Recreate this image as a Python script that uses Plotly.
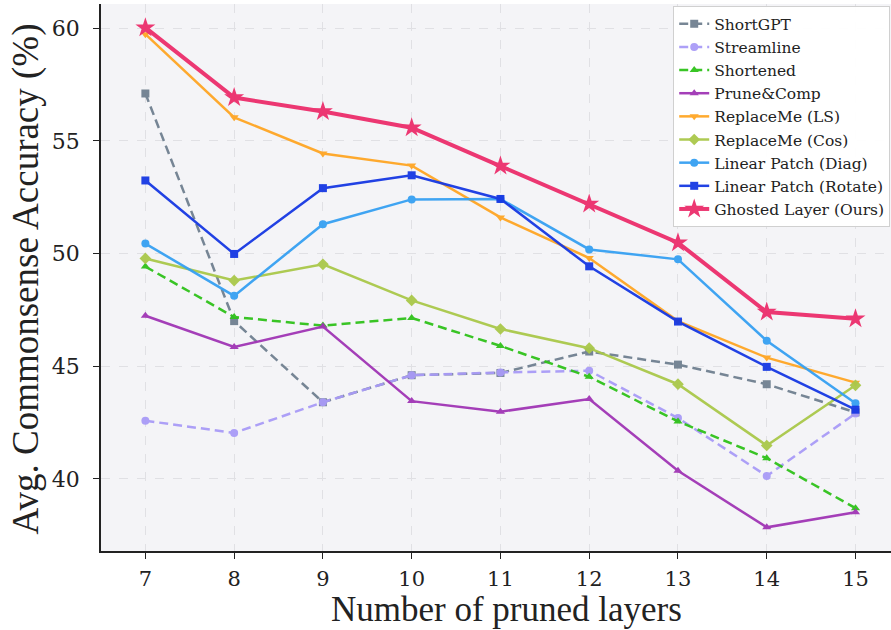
import plotly.graph_objects as go

layers = [7, 8, 9, 10, 11, 12, 13, 14, 15]

shortgpt = [57.1, 47.0, 43.4, 44.6, 44.7, 45.65, 45.07, 44.2, 42.95]
streamline = [42.58, 42.04, 43.4, 44.6, 44.72, 44.8, 42.7, 40.13, 42.9]
shortened = [49.42, 47.18, 46.8, 47.14, 45.9, 44.53, 42.55, 40.92, 38.7]
prune_comp = [47.24, 45.85, 46.76, 43.45, 42.98, 43.54, 40.36, 37.85, 38.52]
replaceme_ls = [59.73, 56.04, 54.44, 53.9, 51.6, 49.8, 47.0, 45.38, 44.27]
replaceme_cos = [49.78, 48.8, 49.52, 47.92, 46.65, 45.8, 44.2, 41.48, 44.15]
lp_diag = [50.44, 48.12, 51.3, 52.4, 52.42, 50.18, 49.74, 46.13, 43.36]
lp_rotate = [53.24, 49.98, 52.9, 53.47, 52.42, 49.43, 46.98, 44.97, 43.07]
ghosted = [60.02, 56.92, 56.3, 55.58, 53.88, 52.2, 50.48, 47.4, 47.1]

x_title = "Number of pruned layers"
y_title = "Avg. Commonsense Accuracy (%)"

series = [
    ("ShortGPT", shortgpt, "#708090", "dash", "square", 8, 2.5),
    ("Streamline", streamline, "#a99bf7", "dash", "circle", 8, 2.5),
    ("Shortened", shortened, "#2fc21a", "dash", "triangle-up", 8, 2.5),
    ("Prune&Comp", prune_comp, "#a035b5", "solid", "triangle-up", 8, 2.5),
    ("ReplaceMe (LS)", replaceme_ls, "#ffa624", "solid", "triangle-down", 8, 2.5),
    ("ReplaceMe (Cos)", replaceme_cos, "#aac84a", "solid", "diamond", 9, 2.5),
    ("Linear Patch (Diag)", lp_diag, "#36a0f2", "solid", "circle", 8, 2.5),
    ("Linear Patch (Rotate)", lp_rotate, "#1638e3", "solid", "square", 8, 2.5),
    ("Ghosted Layer (Ours)", ghosted, "#ec2d6b", "solid", "star", 15, 4),
]

fig = go.Figure()
for name, vals, color, dash, sym, msize, lw in series:
    fig.add_trace(go.Scatter(
        x=layers, y=vals, name=name, mode="lines+markers",
        line=dict(color=color, width=lw, dash="9px,5px" if dash == "dash" else "solid"),
        marker=dict(symbol=sym, size=msize, color=color, line=dict(width=0)),
        opacity=0.95,
    ))

fig.update_layout(
    width=891, height=630,
    margin=dict(l=101, r=0, t=4, b=79, autoexpand=False),
    paper_bgcolor="white",
    plot_bgcolor="#f4f4f7",
    font=dict(family="DejaVu Serif", color="#222"),
    showlegend=True,
    legend=dict(
        x=0.999, y=0.996, xanchor="right", yanchor="top",
        bgcolor="rgba(255,255,255,0.95)", bordercolor="#d0d0d0", borderwidth=1,
        font=dict(family="DejaVu Serif", size=15.5, color="#222"),
        tracegroupgap=0, itemwidth=30,
    ),
    annotations=[
        dict(text=x_title, xref="paper", yref="paper", x=0.5, y=-0.1,
             xanchor="center", yanchor="middle", xshift=10, yshift=-4, showarrow=False,
             font=dict(family="Liberation Serif", size=35, color="#222")),
        dict(text=y_title, xref="paper", yref="paper", x=0, y=0.5, xshift=-76, yshift=-2,
             xanchor="center", yanchor="middle", textangle=-90, showarrow=False,
             font=dict(family="Liberation Serif", size=37, color="#222")),
    ],
)
fig.update_xaxes(
    range=[6.5, 15.4], tickvals=layers, ticktext=[str(v) for v in layers],
    automargin=False,
    showline=True, linecolor="#222", linewidth=1.5, mirror=False,
    ticks="outside", ticklen=6, tickcolor="#222", tickwidth=1,
    ticklabelstandoff=2,
    showgrid=True, gridcolor="#e0e0e4", griddash="dash", gridwidth=1,
    zeroline=False,
    tickfont=dict(family="DejaVu Serif", size=21, color="#222"),
)
fig.update_yaxes(
    range=[36.8, 61.07], tickvals=[40, 45, 50, 55, 60],
    automargin=False,
    showline=True, linecolor="#222", linewidth=1.5, mirror=False,
    ticks="outside", ticklen=6, tickcolor="#222", tickwidth=1,
    ticklabelstandoff=9,
    showgrid=True, gridcolor="#e0e0e4", griddash="dash", gridwidth=1,
    zeroline=False,
    tickfont=dict(family="DejaVu Serif", size=22, color="#222"),
)

fig.write_html("out.html", config={"displayModeBar": False},
               post_script="document.body.style.margin='0px';")
